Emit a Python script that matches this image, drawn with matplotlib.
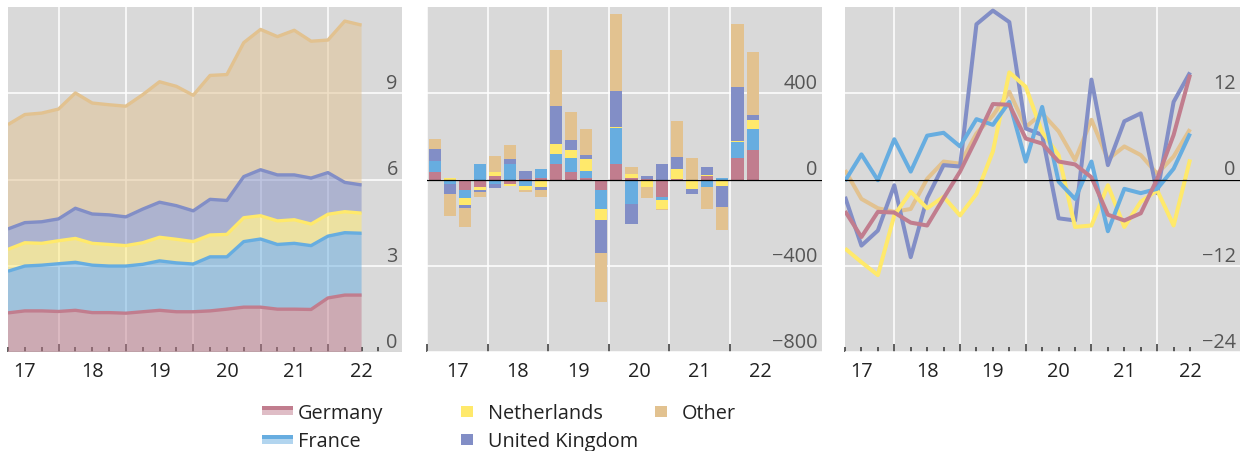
import numpy as np
import matplotlib.pyplot as plt
from matplotlib.patches import Rectangle

plt.rcParams['font.family'] = ['Open Sans', 'DejaVu Sans']

# quarterly data 2017Q1 .. 2022Q2
n_q = 22
years = ['17', '18', '19', '20', '21', '22']
names = ['Germany', 'France', 'Netherlands', 'United Kingdom', 'Other']
colors = ['#c17d8e', '#67ade0', '#ffe96b', '#828ec6', '#e2c290']

# left panel: stocks (levels) by country
stock_de = [1.36, 1.43, 1.43, 1.41, 1.45, 1.37, 1.37, 1.35, 1.40, 1.45, 1.40,
            1.40, 1.43, 1.49, 1.56, 1.56, 1.49, 1.49, 1.48, 1.88, 1.98, 1.98]
stock_fr = [1.45, 1.56, 1.59, 1.66, 1.67, 1.65, 1.62, 1.64, 1.65, 1.72, 1.70,
            1.66, 1.88, 1.82, 2.28, 2.37, 2.25, 2.29, 2.22, 2.15, 2.17, 2.15]
stock_nl = [0.76, 0.81, 0.76, 0.80, 0.83, 0.76, 0.75, 0.71, 0.75, 0.82, 0.82,
            0.78, 0.76, 0.78, 0.83, 0.81, 0.82, 0.82, 0.75, 0.76, 0.73, 0.70]
stock_uk = [0.71, 0.70, 0.75, 0.76, 1.05, 1.02, 1.03, 1.00, 1.17, 1.22, 1.17,
            1.07, 1.24, 1.18, 1.43, 1.60, 1.60, 1.56, 1.60, 1.45, 1.02, 0.98]
stock_ot = [3.63, 3.76, 3.78, 3.82, 4.01, 3.86, 3.83, 3.85, 3.98, 4.19, 4.15,
            4.02, 4.31, 4.38, 4.66, 4.88, 4.81, 5.03, 4.76, 4.61, 5.61, 5.56]

# middle panel: quarterly flows by country
flow_de = [33, -8, -51, -37, 14, -19, 3, 9, 74, 37, 5,
           -51, 70, 5, 2, -79, 2, -9, 14, 0, 102, 135]
flow_fr = [51, -14, -33, 70, -19, 74, -28, 42, 42, 65, 33,
           -88, 167, -112, -9, -14, -9, 0, -33, 5, 70, 98]
flow_nl = [0, 9, -33, -14, 23, -9, -19, -33, 47, 37, 56,
           -51, 6, 19, -28, -42, 47, -33, 9, -28, 5, 42]
flow_uk = [56, -43, -14, -6, -19, 23, 37, -14, 177, 42, 19,
           -153, 166, -93, 14, 70, 56, -23, 33, -98, 251, 23]
flow_ot = [47, -105, -88, -26, 70, 65, -9, -33, 260, 130, 121,
           -223, 358, 33, -47, -5, 167, 102, -102, -107, 293, 293]

# right panel: growth rates by country
growth_de = [-4.4, -8.0, -4.5, -4.6, -6.0, -6.4, -2.6, 1.1, 5.7, 10.5, 10.4,
             5.7, 5.0, 2.5, 2.1, 0.3, -4.9, -5.7, -4.7, 0.1, 6.2, 14.6]
growth_fr = [-0.2, 3.5, -0.1, 5.6, 1.1, 6.1, 6.5, 4.6, 8.4, 7.6, 10.8,
             2.5, 10.1, -0.3, -2.7, 2.5, -7.2, -1.3, -1.9, -1.3, 1.5, 6.4]
growth_nl = [-9.6, -11.5, -13.3, -5.0, -1.7, -4.0, -2.4, -5.0, -2.0, 3.9, 14.9,
             12.9, 6.6, 3.4, -6.6, -6.4, -0.8, -6.6, -3.1, -1.5, -6.4, 2.8]
growth_uk = [-2.4, -9.2, -7.1, -0.8, -10.8, -2.6, 2.0, 1.8, 21.6, 23.5, 21.9,
             7.1, 6.2, -5.4, -5.7, 13.9, 2.0, 8.1, 9.2, -1.9, 10.8, 14.9]
growth_ot = [1.3, -2.7, -4.0, -4.5, -4.1, 0.1, 2.5, 2.2, 6.4, 8.9, 12.2,
             7.3, 9.2, 6.7, 2.7, 8.3, 2.8, 4.6, 3.4, 0.8, 3.2, 7.0]

stocks = [stock_de, stock_fr, stock_nl, stock_uk, stock_ot]
flows = [flow_de, flow_fr, flow_nl, flow_uk, flow_ot]
growth = [growth_de, growth_fr, growth_nl, growth_uk, growth_ot]

x_end = 2017.25 + 0.25 * np.arange(n_q)     # end of quarter
x_mid = 2017.125 + 0.25 * np.arange(n_q)    # middle of quarter
year_mid = 2017.5 + np.arange(len(years))

W, H = 1241, 452
FS = 14.3
fig = plt.figure(figsize=(W / 100, H / 100), dpi=100)
BG = '#d9d9d9'
TICK_C = '#333333'


def px_axes(x0, x1, y0=8, y1=353):
    return fig.add_axes([x0 / W, 1 - y1 / H, (x1 - x0) / W, (y1 - y0) / H])


def ylabels(ax, labels=None):
    if labels is not None:
        ax.set_yticklabels(labels)
    for lab in ax.get_yticklabels():
        lab.set_ha('right')
        lab.set_va('bottom')


def style(ax, yticks, xmajor, xminor=None):
    ax.set_facecolor(BG)
    for s in ax.spines.values():
        s.set_visible(False)
    ax.set_axisbelow(True)
    ax.set_yticks(yticks)
    ax.yaxis.tick_right()
    ax.tick_params(axis='y', length=0, pad=-3, labelsize=FS, labelcolor='#555555')
    ylabels(ax)
    ax.set_xticks(xmajor)
    ax.set_xticklabels([])
    if xminor is not None:
        ax.set_xticks(xminor, minor=True)
    ax.tick_params(axis='x', which='major', direction='in', length=6, width=1.1, color=TICK_C)
    ax.tick_params(axis='x', which='minor', direction='in', length=3.6, width=1.1, color=TICK_C)
    ax.grid(True, which='major', color='white', lw=1.1)
    sec = ax.secondary_xaxis('bottom')
    sec.set_xticks(year_mid, years)
    sec.tick_params(length=0, pad=6.5, labelsize=FS, labelcolor='#222222')
    sec.spines['bottom'].set_visible(False)
    ax.axhline(0, color='black', lw=0.9, zorder=3)


# left: stacked stocks
ax1 = px_axes(8, 402)
cum = np.cumsum(np.array(stocks), axis=0)
ax1.stackplot(x_end, *stocks, colors=colors, alpha=0.5, lw=0)
for i in range(len(names)):
    ax1.plot(x_end, cum[i], color=colors[i], lw=2.4, solid_capstyle='butt')
ax1.set_xlim(2017.25, 2023.1)
ax1.set_ylim(0, 12)
style(ax1, [0, 3, 6, 9], np.arange(2018, 2023),
      2017.25 + 0.25 * np.arange(23))

# middle: stacked flows
ax2 = px_axes(427, 822)
pos_base = np.zeros(n_q)
neg_base = np.zeros(n_q)
for vals, c in zip(flows, colors):
    v = np.array(vals, dtype=float)
    base = np.where(v >= 0, pos_base, neg_base)
    ax2.bar(x_mid, v, width=0.2, bottom=base, color=c, lw=0, zorder=2)
    pos_base += np.clip(v, 0, None)
    neg_base += np.clip(v, None, 0)
ax2.set_xlim(2017, 2023.52)
ax2.set_ylim(-800, 800)
style(ax2, [-800, -400, 0, 400], np.arange(2017, 2023))
ylabels(ax2, ['\u2212800', '\u2212400', '0', '400'])

# right: growth lines
ax3 = px_axes(845, 1240)
for i in [4, 3, 2, 1, 0]:
    ax3.plot(x_end, growth[i], color=colors[i], lw=2.9, solid_capstyle='butt', zorder=2)
ax3.set_xlim(2017.255, 2023.26)
ax3.set_ylim(-24, 24)
style(ax3, [-24, -12, 0, 12], np.arange(2018, 2023), x_end)
ylabels(ax3, ['\u221224', '\u221212', '0', '12'])


# legend, drawn in figure pixels
def fx(x):
    return x / W


def fy(y):
    return 1 - y / H


def band(x, y_top, c):
    fig.add_artist(Rectangle((fx(x), fy(y_top + 4)), 31 / W, 4 / H, color=c, lw=0))
    fig.add_artist(Rectangle((fx(x), fy(y_top + 9)), 31 / W, 5 / H, color=c, alpha=0.5, lw=0))


def square(x, y_top, c):
    fig.add_artist(Rectangle((fx(x), fy(y_top + 11)), 12 / W, 11 / H, color=c, lw=0))


band(262, 407, colors[0])
band(262, 436, colors[1])
square(461, 407, colors[2])
square(461, 435, colors[3])
square(655, 407, colors[4])
leg_pos = [(298, 419.5), (298, 447.5), (488, 419.5), (488, 447.5), (682, 419.5)]
for name, (lx, ly) in zip(names, leg_pos):
    fig.text(fx(lx), fy(ly), name, fontsize=FS, color='#222222', va='baseline', ha='left')

fig.savefig('out.png', dpi=100)
